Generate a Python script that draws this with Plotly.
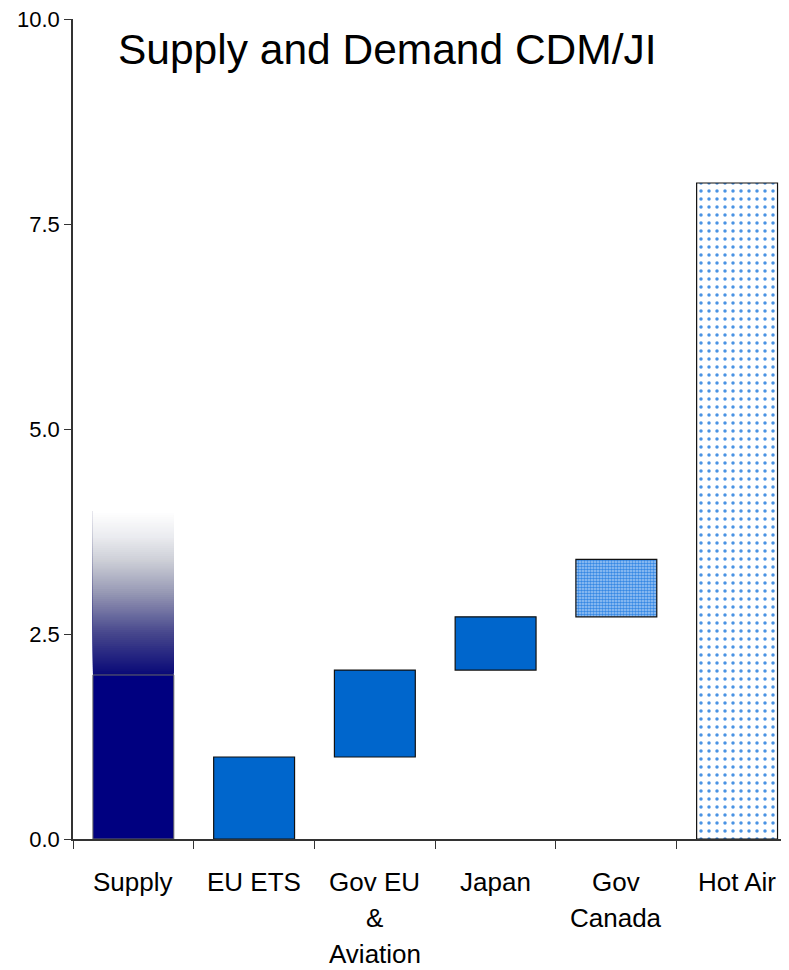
import plotly.graph_objects as go

categories = ["Supply", "EU ETS", "Gov EU<br>&<br>Aviation", "Japan", "Gov<br>Canada", "Hot Air"]
bar_base = [0.0, 0.0, 1.0, 2.06, 2.71, 0.0]
bar_top = [2.0, 1.0, 2.06, 2.71, 3.41, 8.0]
supply_fade_top = 4.0
y_ticks = [0.0, 2.5, 5.0, 7.5, 10.0]
title_text = "Supply and Demand CDM/JI"

FONT = "Liberation Sans, Arial, sans-serif"
heights = [t - b for t, b in zip(bar_top, bar_base)]

fig = go.Figure()

# gradient above supply (styling: slices fading from navy to white)
n = 80
grad_stops = [(0.0, (10, 10, 120)), (0.25, (70, 70, 140)), (0.5, (150, 152, 180)),
              (0.7, (205, 207, 215)), (0.85, (235, 236, 240)), (1.0, (255, 255, 255))]

def lerp_color(t):
    for (t0, c0), (t1, c1) in zip(grad_stops[:-1], grad_stops[1:]):
        if t <= t1:
            f = (t - t0) / (t1 - t0) if t1 > t0 else 0
            return "rgb(%d,%d,%d)" % tuple(round(a + (b - a) * f) for a, b in zip(c0, c1))
    return "rgb(255,255,255)"

s_low = bar_top[0]
step = (supply_fade_top - s_low) / n
g_base = [s_low + i * step for i in range(n)]
g_y = [supply_fade_top - b for b in g_base]
g_col = [lerp_color(i / (n - 1)) for i in range(n)]
fig.add_trace(go.Bar(x=[categories[0]] * n, y=g_y, base=g_base, width=0.67,
                     marker=dict(color=g_col, line=dict(width=0)), hoverinfo="skip"))

# solid supply
fig.add_trace(go.Bar(x=[categories[0]], y=[heights[0]], base=[bar_base[0]], width=0.67,
                     marker=dict(color="#000080", line=dict(color="#666666", width=1))))

# blue solid bars
fig.add_trace(go.Bar(x=categories[1:4], y=heights[1:4], base=bar_base[1:4], width=0.67,
                     marker=dict(color="#0066CC", line=dict(color="#111111", width=1.2))))

# Gov Canada - dense pattern
fig.add_trace(go.Bar(x=[categories[4]], y=[heights[4]], base=[bar_base[4]], width=0.67,
                     marker=dict(color="#A9CFF7", line=dict(color="#111111", width=1.2),
                                 pattern=dict(shape=".", size=3, solidity=0.55,
                                              fgcolor="#3688E4", bgcolor="#A2C9F5",
                                              fillmode="replace"))))

# Hot Air - sparse dots
fig.add_trace(go.Bar(x=[categories[5]], y=[heights[5]], base=[bar_base[5]], width=0.67,
                     marker=dict(color="white", line=dict(color="#111111", width=1.2),
                                 pattern=dict(shape=".", size=8, solidity=0.15,
                                              fgcolor="#4A93E4", bgcolor="white",
                                              fillmode="replace"))))

fig.add_annotation(text=title_text, xref="paper", yref="paper",
                   x=(116 - 73) / 716, y=0.963, xanchor="left", yanchor="middle",
                   showarrow=False, font=dict(family=FONT, size=42.5, color="black"))

# category labels, one annotation per line for the original line spacing
for cat in categories:
    for k, line in enumerate(cat.split("<br>")):
        fig.add_annotation(text=line, x=cat, xref="x", yref="paper", y=0,
                           yanchor="middle", xanchor="center", yshift=-43 - 36 * k,
                           showarrow=False,
                           font=dict(family=FONT, size=26, color="black"))

fig.update_layout(
    width=781, height=962,
    margin=dict(l=65, r=0, t=11, b=131),
    paper_bgcolor="white", plot_bgcolor="white",
    barmode="overlay", showlegend=False, hovermode=False,
    font=dict(family=FONT, color="black"),
)
fig.update_xaxes(
    type="category", range=[-0.5, 5.43],
    showline=True, linecolor="#333333", linewidth=1.5,
    ticks="outside", ticklen=8, tickcolor="#333333", tickwidth=1.2,
    tickson="boundaries", showgrid=False, zeroline=False,
    showticklabels=False,
)
fig.update_yaxes(
    range=[0, 10.0001], tickvals=y_ticks, tickformat=".1f",
    showline=True, linecolor="#333333", linewidth=1.5,
    ticks="outside", ticklen=7, tickcolor="#333333", tickwidth=1.2,
    showgrid=False, zeroline=False, ticklabeloverflow="allow",
    tickfont=dict(family=FONT, size=22, color="black"),
)

fig.write_html("out.html")
